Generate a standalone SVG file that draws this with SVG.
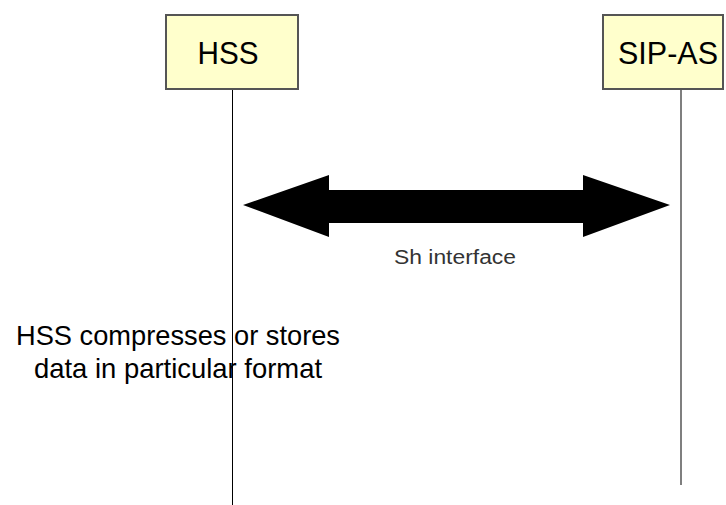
<svg xmlns="http://www.w3.org/2000/svg" width="726" height="505" viewBox="0 0 726 505">
  <style>
    .box { fill: #FFFFCC; stroke: #555555; stroke-width: 2; }
    .title { font-family: "Liberation Sans", Arial, sans-serif; font-size: 31px; fill: #000000; text-anchor: middle; }
    .lifeline { stroke: #000000; stroke-width: 1; fill: none; }
    .lifeline-far { stroke: #555555; stroke-width: 1.5; fill: none; }
    .label { font-family: "Liberation Sans", Arial, sans-serif; fill: #000000; text-anchor: middle; }
    .iface { fill: #333333; font-size: 20px; }
    .note { font-size: 28px; }
  </style>
  <rect width="726" height="505" fill="#FFFFFF"/>

  <g id="hss">
    <rect class="box" x="166" y="15" width="132" height="74"/>
    <text class="title" x="228" y="64" textLength="61" lengthAdjust="spacingAndGlyphs">HSS</text>
  </g>

  <g id="sip-as">
    <rect class="box" x="603" y="15" width="120" height="74"/>
    <text class="title" x="668" y="64" textLength="100" lengthAdjust="spacingAndGlyphs">SIP-AS</text>
  </g>

  <g id="connectors">
    <line class="lifeline" x1="232.5" y1="90" x2="232.5" y2="505"/>
    <line class="lifeline-far" x1="681" y1="90" x2="681" y2="485"/>
    <!-- Sh interface: block double-headed arrow -->
    <polygon points="243,205 329,175 329,190 583,190 583,175 670,205 583,237 583,223 329,223 329,237" fill="#000000"/>
  </g>

  <g id="sh-label">
    <text class="label iface" x="455" y="264" textLength="122" lengthAdjust="spacingAndGlyphs">Sh interface</text>
  </g>

  <g id="note">
    <text class="label note" x="178" y="345" textLength="324" lengthAdjust="spacingAndGlyphs">HSS compresses or stores</text>
    <text class="label note" x="178" y="378" textLength="288" lengthAdjust="spacingAndGlyphs">data in particular format</text>
  </g>
</svg>
